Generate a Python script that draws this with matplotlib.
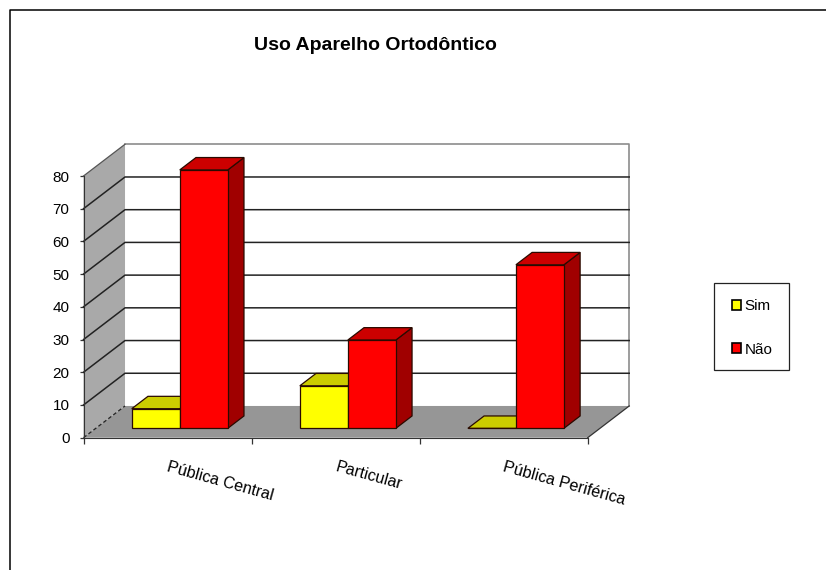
import matplotlib
matplotlib.use("Agg")
import matplotlib.pyplot as plt
from matplotlib.lines import Line2D
from matplotlib.patches import Patch, Polygon, Rectangle
from matplotlib.transforms import ScaledTranslation

plt.rcParams["font.family"] = ["Liberation Sans", "DejaVu Sans"]

categories = ["Pública Central", "Particular", "Pública Periférica"]
sim = [6, 13, 0]
nao = [79, 27, 50]
y_ticks = [0, 10, 20, 30, 40, 50, 60, 70, 80]

# depth of the fake 3d box, in data units
DX = 0.247
DY = 9.7
BAR_W = 0.2857
GAP = 0.2143
BAR_START = 0.295
BAR_END = 0.685


def poly(ax, pts, face, edge="none", lw=0.9, z=1):
    ax.add_patch(Polygon(pts, closed=True, facecolor=face, edgecolor=edge,
                         linewidth=lw, clip_on=False, zorder=z, joinstyle="miter"))


def bar3d(ax, x, value, front, top, side, z):
    x0 = x + BAR_START * DX
    y0 = BAR_START * DY
    ddx = (BAR_END - BAR_START) * DX
    ddy = (BAR_END - BAR_START) * DY
    edge = "#2a0a00"
    poly(ax, [(x0 + BAR_W, y0), (x0 + BAR_W + ddx, y0 + ddy),
              (x0 + BAR_W + ddx, y0 + ddy + value), (x0 + BAR_W, y0 + value)],
         side, edge, z=z)
    poly(ax, [(x0, y0 + value), (x0 + BAR_W, y0 + value),
              (x0 + BAR_W + ddx, y0 + value + ddy), (x0 + ddx, y0 + value + ddy)],
         top, edge, z=z)
    poly(ax, [(x0, y0), (x0 + BAR_W, y0), (x0 + BAR_W, y0 + value), (x0, y0 + value)],
         front, edge, z=z)


def main():
    fig = plt.figure(figsize=(8.26, 5.70), dpi=100, facecolor="white")
    ax = fig.add_axes([83.5 / 826, (570 - 437.7) / 570, 504.2 / 826, 261.7 / 570])
    ax.set_facecolor("none")
    ax.set_xlim(0, len(categories))
    ax.set_ylim(0, y_ticks[-1])

    right = len(categories)
    top = y_ticks[-1]

    # walls and floor
    poly(ax, [(0, 0), (DX, DY), (DX, top + DY), (0, top)], "#a9a9a9", z=1)
    poly(ax, [(0, 0), (right, 0), (right + DX, DY), (DX, DY)], "#969696", z=1)
    ax.plot([DX, right + DX, right + DX], [top + DY, top + DY, DY], color="#8c8c8c",
            lw=1.2, clip_on=False, zorder=2)
    ax.plot([0, DX], [top, top + DY], color="#555555", lw=0.9, clip_on=False, zorder=2)
    ax.plot([0, DX], [0, DY], color="#222222", lw=0.9, ls=(0, (3, 2)), clip_on=False, zorder=2)
    ax.plot([right, right + DX], [0, DY], color="#333333", lw=0.9, clip_on=False, zorder=2)

    # gridlines wrap from the side wall onto the back wall
    for v in y_ticks[1:-1]:
        ax.plot([0, DX, right + DX], [v, v + DY, v + DY], color="#222222", lw=1.1,
                clip_on=False, zorder=2)

    # bars
    for i in range(len(categories)):
        bar3d(ax, i + GAP, sim[i], "#ffff00", "#cccc00", "#999900", 3 + i)
        bar3d(ax, i + GAP + BAR_W, nao[i], "#ff0000", "#cc0000", "#a00000", 3 + i)

    # axes
    for s in ["top", "right"]:
        ax.spines[s].set_visible(False)
    ax.spines["left"].set_color("#333333")
    ax.spines["bottom"].set_color("#333333")
    ax.spines["left"].set_zorder(2)
    ax.spines["bottom"].set_zorder(2)
    ax.set_yticks(y_ticks)
    ax.tick_params(axis="y", length=3, width=0.9, pad=7, labelsize=11, color="#333333")
    ax.set_xticks(range(len(categories) + 1))
    ax.set_xticklabels([])
    ax.tick_params(axis="x", which="major", length=4, width=0.9, color="#333333")
    ax.set_xticks([i + 0.5 for i in range(len(categories))], minor=True)
    ax.set_xticklabels(categories, minor=True, rotation=-15.5, ha="left", va="top",
                       rotation_mode="anchor", fontsize=11.6)
    ax.tick_params(axis="x", which="minor", length=0, pad=16)
    shift = ScaledTranslation(2 / 100, 0, fig.dpi_scale_trans)
    for lab in ax.get_xticklabels(minor=True):
        lab.set_transform(lab.get_transform() + shift)

    fig.text(375 / 826, 1 - 46 / 570, "Uso Aparelho Ortodôntico", ha="center", va="center",
             fontsize=14, fontweight="bold", color="black")

    # legend box drawn on its own so its size can follow the reference
    fig.add_artist(Rectangle((714 / 826, 1 - 370.3 / 570), 74.7 / 826, 87 / 570,
                             transform=fig.transFigure, facecolor="white",
                             edgecolor="#222222", lw=0.9))
    handles = [Patch(facecolor="#ffff00", edgecolor="black", lw=1.2, label="Sim"),
               Patch(facecolor="#ff0000", edgecolor="black", lw=1.2, label="Não")]
    leg = fig.legend(handles=handles, loc="upper left",
                     bbox_to_anchor=(716 / 826, 1 - 283.3 / 570), borderaxespad=0,
                     frameon=False, fontsize=11,
                     handlelength=0.6, handleheight=0.6, handletextpad=0.2,
                     borderpad=1.05, labelspacing=1.92)
    leg.set_zorder(5)

    # outer chart border, only top and left are inside the picture
    fig.add_artist(Line2D([9.5 / 826, 9.5 / 826, 1], [0, 1 - 9.5 / 570, 1 - 9.5 / 570],
                          color="black", lw=1.1))

    fig.savefig("out.png", dpi=100)


if __name__ == "__main__":
    main()
